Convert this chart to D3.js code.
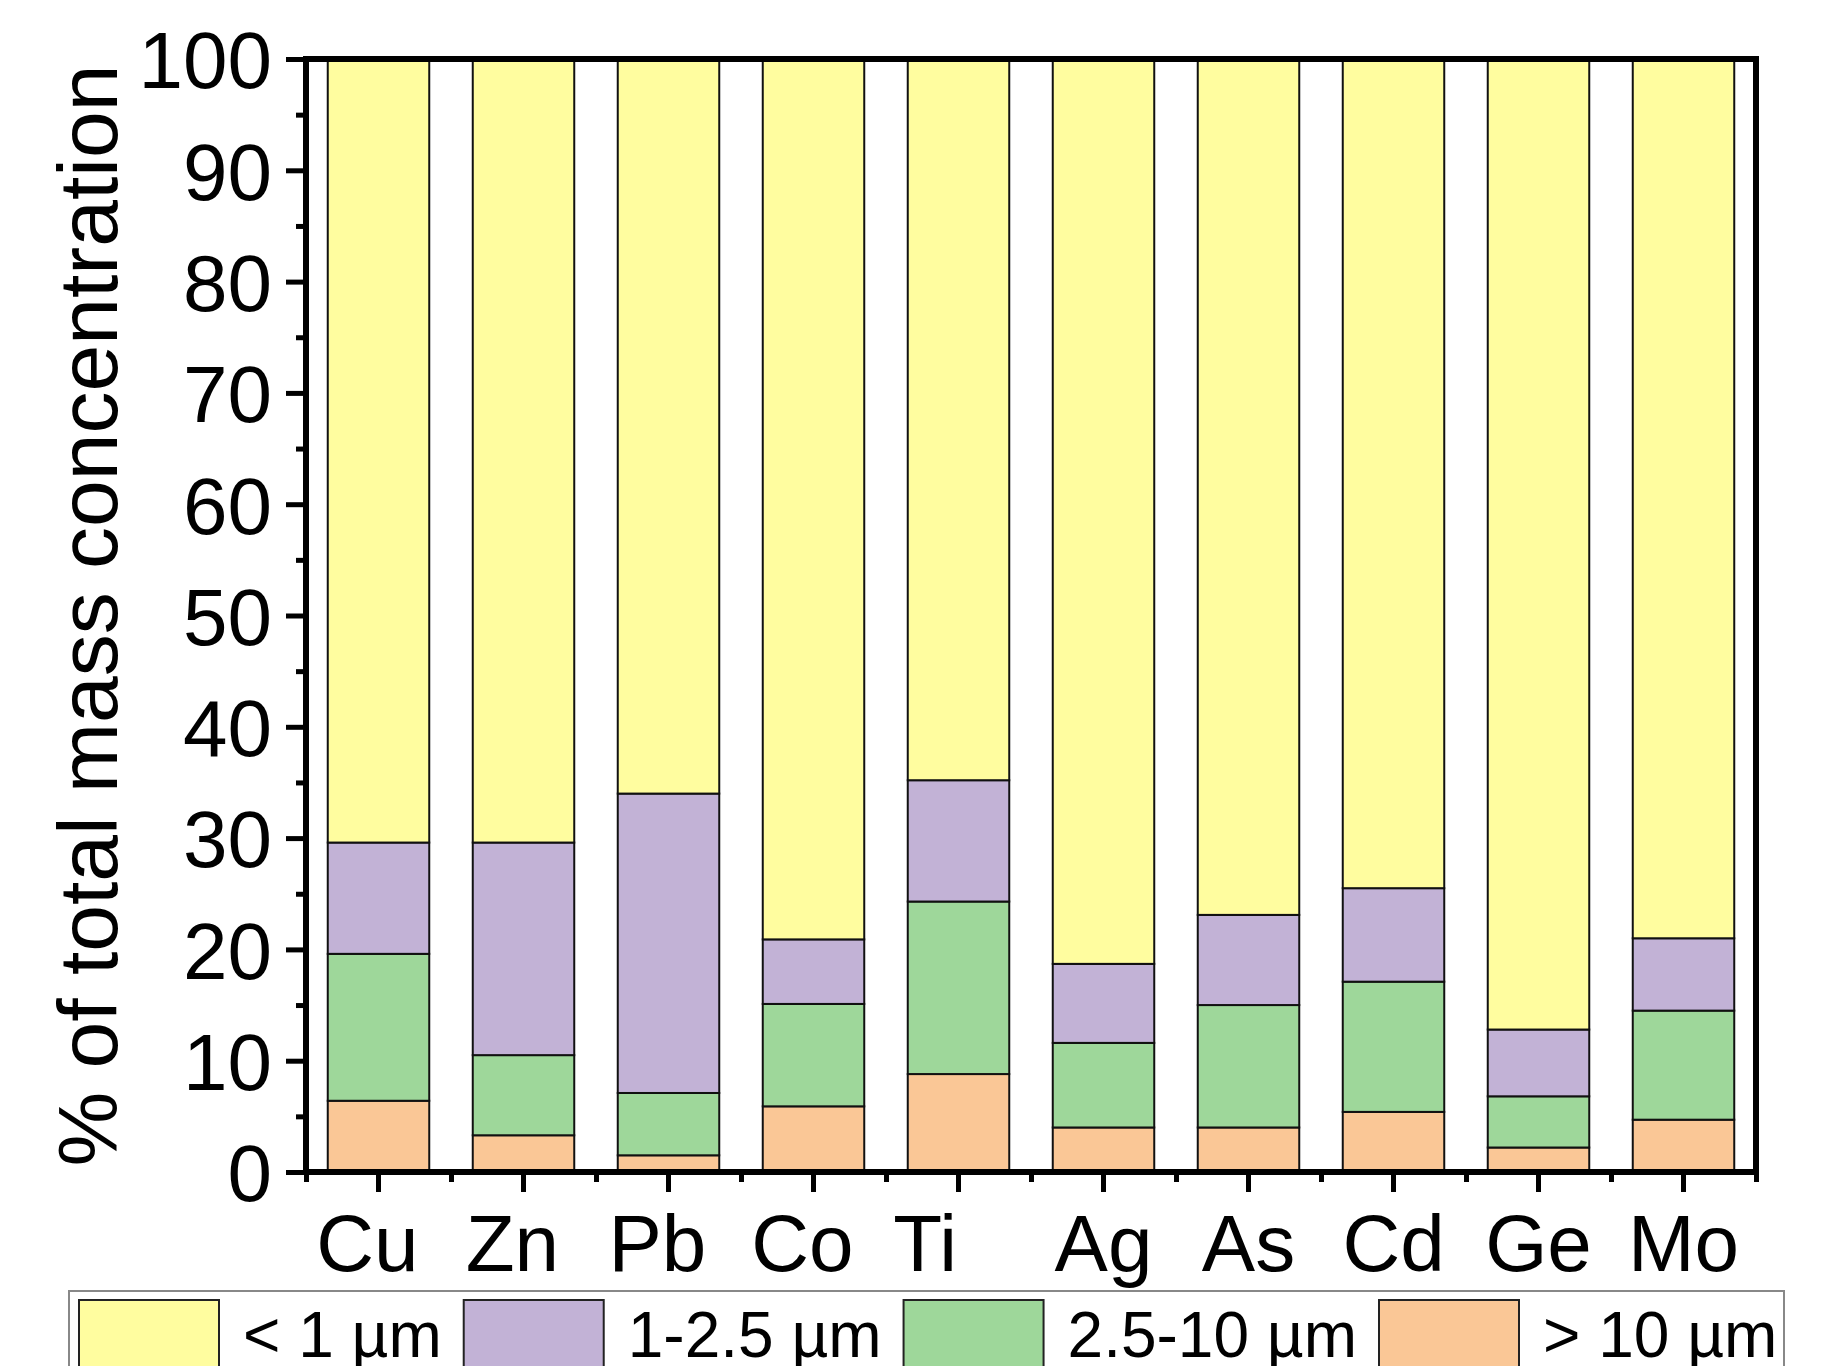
<!DOCTYPE html>
<html>
<head>
<meta charset="utf-8">
<script src="https://cdn.jsdelivr.net/npm/d3@7"></script>
<style>
  html, body { margin: 0; padding: 0; background: #fff; }
  svg { display: block; }
  text { font-family: "Liberation Sans", Arial, sans-serif; fill: #000; }
</style>
</head>
<body>
<svg id="chart" width="1845" height="1366"></svg>
<script>
// ---- data ----
const categories = ["Cu", "Zn", "Pb", "Co", "Ti", "Ag", "As", "Cd", "Ge", "Mo"];
const tickLabels = ["Cu ", "Zn ", "Pb ", "Co ", "Ti   ", "Ag", "As", "Cd", "Ge", "Mo"];
const seriesNames = ["> 10 µm", "2.5-10 µm", "1-2.5 µm", "< 1 µm"]; // stack order bottom -> top
const over10   = [6.4, 3.3, 1.5, 5.9, 8.8, 4.0, 4.0, 5.4, 2.2, 4.7];
const pm2510   = [13.2, 7.2, 5.6, 9.2, 15.5, 7.6, 11.0, 11.7, 4.6, 9.8];
const pm125    = [10.0, 19.1, 26.9, 5.8, 10.9, 7.1, 8.1, 8.4, 6.0, 6.5];
const under1   = [70.4, 70.4, 66.0, 79.1, 64.8, 81.3, 76.9, 74.5, 87.2, 79.0];
const yTicks = [0, 10, 20, 30, 40, 50, 60, 70, 80, 90, 100];
const yMinorTicks = [5, 15, 25, 35, 45, 55, 65, 75, 85, 95];
const legendOrder = ["< 1 µm", "1-2.5 µm", "2.5-10 µm", "> 10 µm"];
const colors = {"< 1 µm": "#FFFD9F", "1-2.5 µm": "#C2B2D6", "2.5-10 µm": "#9ED79A", "> 10 µm": "#FAC796"};

// ---- build table ----
const seriesValues = [over10, pm2510, pm125, under1];
const table = categories.map((c, i) => {
  const row = {cat: c};
  seriesNames.forEach((s, j) => row[s] = seriesValues[j][i]);
  return row;
});
const stacked = d3.stack().keys(seriesNames)(table);

// ---- layout ----
const svg = d3.select("#chart");
const L = 306, R = 1756, T = 59, B = 1172;
const x = d3.scaleBand().domain(categories).range([L, R]).paddingInner(0.3).paddingOuter(0.15);
const y = d3.scaleLinear().domain([0, 100]).range([B, T]);

// bars
svg.append("g").selectAll("g").data(stacked).join("g")
  .attr("fill", d => colors[d.key])
  .selectAll("rect").data(d => d).join("rect")
  .attr("x", d => x(d.data.cat))
  .attr("width", x.bandwidth())
  .attr("y", d => y(d[1]))
  .attr("height", d => y(d[0]) - y(d[1]))
  .attr("stroke", "#111")
  .attr("stroke-width", 2);

// y axis major
const yAxis = svg.append("g").attr("transform", `translate(${L},0)`)
  .call(d3.axisLeft(y).tickValues(yTicks).tickSize(20).tickPadding(14).tickFormat(d3.format("d")));
yAxis.select(".domain").remove();
yAxis.selectAll(".tick line").attr("stroke", "#000").attr("stroke-width", 5);
yAxis.selectAll(".tick text").style("font-size", "80px").attr("dy", "0.36em")
  .style("font-family", '"Liberation Sans", Arial, sans-serif');
// y axis minor
const yMinor = svg.append("g").attr("transform", `translate(${L},0)`)
  .call(d3.axisLeft(y).tickValues(yMinorTicks).tickSize(10).tickFormat(""));
yMinor.select(".domain").remove();
yMinor.selectAll(".tick line").attr("stroke", "#000").attr("stroke-width", 5);

// x axis major
const xAxis = svg.append("g").attr("transform", `translate(0,${B})`)
  .call(d3.axisBottom(x).tickSize(20).tickPadding(0).tickFormat((d, i) => tickLabels[i]));
xAxis.select(".domain").remove();
xAxis.selectAll(".tick line").attr("stroke", "#000").attr("stroke-width", 5);
xAxis.selectAll(".tick text").style("font-size", "80px").style("white-space", "pre")
  .attr("y", 99).attr("dy", 0)
  .style("font-family", '"Liberation Sans", Arial, sans-serif');
// x axis minor (band boundaries)
const xBounds = categories.map(c => x(c) - x.step() * x.paddingInner() / 2).concat([R]);
const xMinorScale = d3.scaleLinear().domain([L, R]).range([L, R]);
const xMinor = svg.append("g").attr("transform", `translate(0,${B})`)
  .call(d3.axisBottom(xMinorScale).tickValues(xBounds).tickSize(10).tickFormat(""));
xMinor.select(".domain").remove();
xMinor.selectAll(".tick line").attr("stroke", "#000").attr("stroke-width", 5);

// frame
svg.append("rect").attr("x", L).attr("y", T).attr("width", R - L).attr("height", B - T)
  .attr("fill", "none").attr("stroke", "#000").attr("stroke-width", 6);

// y title
svg.append("text")
  .attr("transform", `translate(117,${(T + B) / 2}) rotate(-90)`)
  .attr("text-anchor", "middle")
  .style("font-size", "84px")
  .text("% of total mass concentration");

// legend
const lg = svg.append("g");
lg.append("rect").attr("x", 69).attr("y", 1291).attr("width", 1715).attr("height", 200)
  .attr("fill", "#fff").attr("stroke", "#888").attr("stroke-width", 2);
let cx = 79;
legendOrder.forEach(name => {
  lg.append("rect").attr("x", cx).attr("y", 1300).attr("width", 140).attr("height", 142)
    .attr("fill", colors[name]).attr("stroke", "#222").attr("stroke-width", 2);
  cx += 140 + 24;
  const t = lg.append("text").attr("x", cx).attr("y", 1357).style("font-size", "64px").text(name);
  cx += t.node().getComputedTextLength() + 22;
});
</script>
</body>
</html>
